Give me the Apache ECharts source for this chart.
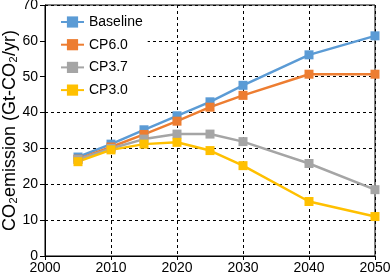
<!DOCTYPE html>
<html><head><meta charset="utf-8">
<script src="https://cdn.jsdelivr.net/npm/echarts@6/dist/echarts.min.js"></script>
<style>html,body{margin:0;padding:0;background:#fff}#c{width:392px;height:277px}</style>
</head><body><div id="c"></div>
<script>
const years = [2005, 2010, 2015, 2020, 2025, 2030, 2040, 2050];
const seriesNames = ['Baseline', 'CP6.0', 'CP3.7', 'CP3.0'];
const baseline = [27.6, 31.2, 35.2, 39.1, 43.0, 47.6, 56.1, 61.4];
const cp60 = [27.0, 30.4, 33.9, 37.6, 41.5, 44.8, 50.7, 50.7];
const cp37 = [26.9, 30.0, 32.6, 34.0, 34.0, 31.9, 25.8, 18.5];
const cp30 = [26.3, 29.6, 31.2, 31.7, 29.4, 25.2, 15.2, 11.0];
const colors = ['#5B9BD5', '#ED7D31', '#A5A5A5', '#FFC000'];
const yTicks = [0, 10, 20, 30, 40, 50, 60, 70];
const xTicks = [2000, 2010, 2020, 2030, 2040, 2050];

const allData = [baseline, cp60, cp37, cp30];
const font = 'Liberation Sans, Arial, Helvetica, sans-serif';
const chart = echarts.init(document.getElementById('c'), null, {renderer: 'canvas'});
chart.setOption({
  animation: false,
  backgroundColor: '#fff',
  textStyle: {fontFamily: font},
  grid: {left: 45, right: 17, top: 5, bottom: 21, show: true, borderColor: '#000', borderWidth: 1,
         containLabel: false, outerBoundsMode: 'none'},
  legend: {
    left: 46, top: 6, orient: 'vertical',
    padding: [9, 5, 15, 14],
    backgroundColor: '#fff',
    itemWidth: 23, itemHeight: 14, itemGap: 8.7,
    textStyle: {fontSize: 14, color: '#000', fontFamily: font},
    data: seriesNames
  },
  xAxis: {
    type: 'value', min: xTicks[0], max: xTicks[xTicks.length - 1], interval: 10,
    axisLine: {show: true, onZero: false, lineStyle: {color: '#000', width: 1}},
    axisTick: {show: true, inside: false, length: 4, lineStyle: {color: '#000'}},
    axisLabel: {color: '#000', fontSize: 14, margin: 5, fontFamily: font, formatter: v => String(v)},
    splitLine: {show: true, lineStyle: {color: '#000', type: [3, 3], width: 1}}
  },
  yAxis: {
    type: 'value', min: yTicks[0], max: yTicks[yTicks.length - 1], interval: 10,
    name: 'CO₂emission (Gt-CO₂/yr)', nameLocation: 'middle', nameGap: 26, nameMoveOverlap: false,
    nameTextStyle: {color: '#000', fontSize: 18, fontFamily: font},
    axisLine: {show: true, lineStyle: {color: '#000', width: 1}},
    axisTick: {show: true, inside: false, length: 5, lineStyle: {color: '#000'}},
    axisLabel: {color: '#000', fontSize: 14, margin: 7, fontFamily: font},
    splitLine: {show: true, lineStyle: {color: '#000', type: [3, 3], width: 1}}
  },
  series: seriesNames.map((n, i) => ({
    name: n, type: 'line',
    data: years.map((y, j) => [y, allData[i][j]]),
    symbol: 'rect', symbolSize: 9, showAllSymbol: true,
    lineStyle: {color: colors[i], width: 2.5},
    itemStyle: {color: colors[i], borderWidth: 0},
    color: colors[i]
  }))
});
</script></body></html>
